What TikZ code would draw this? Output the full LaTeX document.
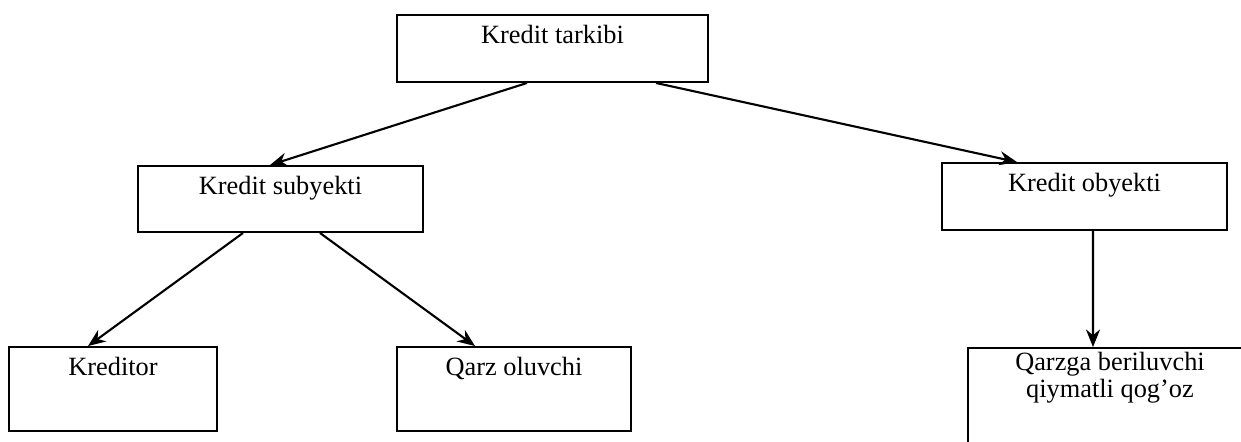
\documentclass[tikz,border=0pt]{standalone}
\usepackage{fontspec}
\setmainfont{Liberation Serif}
\usetikzlibrary{arrows.meta}
\tikzset{
	boks/.style={ % kasse om hvert begreb
			draw,
			rectangle,
			line width=1.1pt,
			inner sep=0pt
		},
	tekst/.style={ % tekst oeverst i kassen
			anchor=north,
			inner sep=0pt,
			yshift=-0.22cm,
			align=center
		},
	pil/.style={
			draw,
			line width=1.2pt,
			-{Stealth[length=10pt,width=8pt]}
		}
}
\begin{document}
\begin{tikzpicture}[x=0.02cm, y=-0.02cm, font=\fontsize{15}{15.5}\selectfont]
	\clip (0,0) rectangle (1241,441);
	\node[boks, minimum width=6.22cm, minimum height=1.34cm,
		label={[tekst]north:Kredit tarkibi}] (tarkibi) at (552.5,48.5) {};
	\node[boks, minimum width=5.70cm, minimum height=1.32cm,
		label={[tekst]north:Kredit subyekti}] (subyekt) at (280.5,199) {};
	\node[boks, minimum width=5.70cm, minimum height=1.34cm,
		label={[tekst]north:Kredit obyekti}] (obyekt) at (1084.5,196.5) {};
	\node[boks, minimum width=4.16cm, minimum height=1.68cm,
		label={[tekst]north:Kreditor}] (kreditor) at (113,389) {};
	\node[boks, minimum width=4.68cm, minimum height=1.68cm,
		label={[tekst]north:Qarz oluvchi}] (qarz) at (514,389) {};
	\node[boks, minimum width=5.68cm, minimum height=2.24cm,
		label={[tekst, yshift=0.12cm]north:{Qarzga beriluvchi\\qiymatli qog’oz}}] (qogoz) at (1110,404) {};

	\draw[pil] ([xshift=-0.51cm]tarkibi.south) -- ([xshift=-0.21cm]subyekt.north);
	\draw[pil] ([xshift=2.07cm]tarkibi.south) -- ([xshift=-1.35cm]obyekt.north);
	\draw[pil] ([xshift=-0.75cm]subyekt.south) -- ([xshift=-0.5cm]kreditor.north);
	\draw[pil] ([xshift=0.79cm]subyekt.south) -- ([xshift=-0.78cm]qarz.north);
	\draw[pil] ([xshift=0.17cm]obyekt.south) -- ([xshift=-0.34cm]qogoz.north);
\end{tikzpicture}
\end{document}
